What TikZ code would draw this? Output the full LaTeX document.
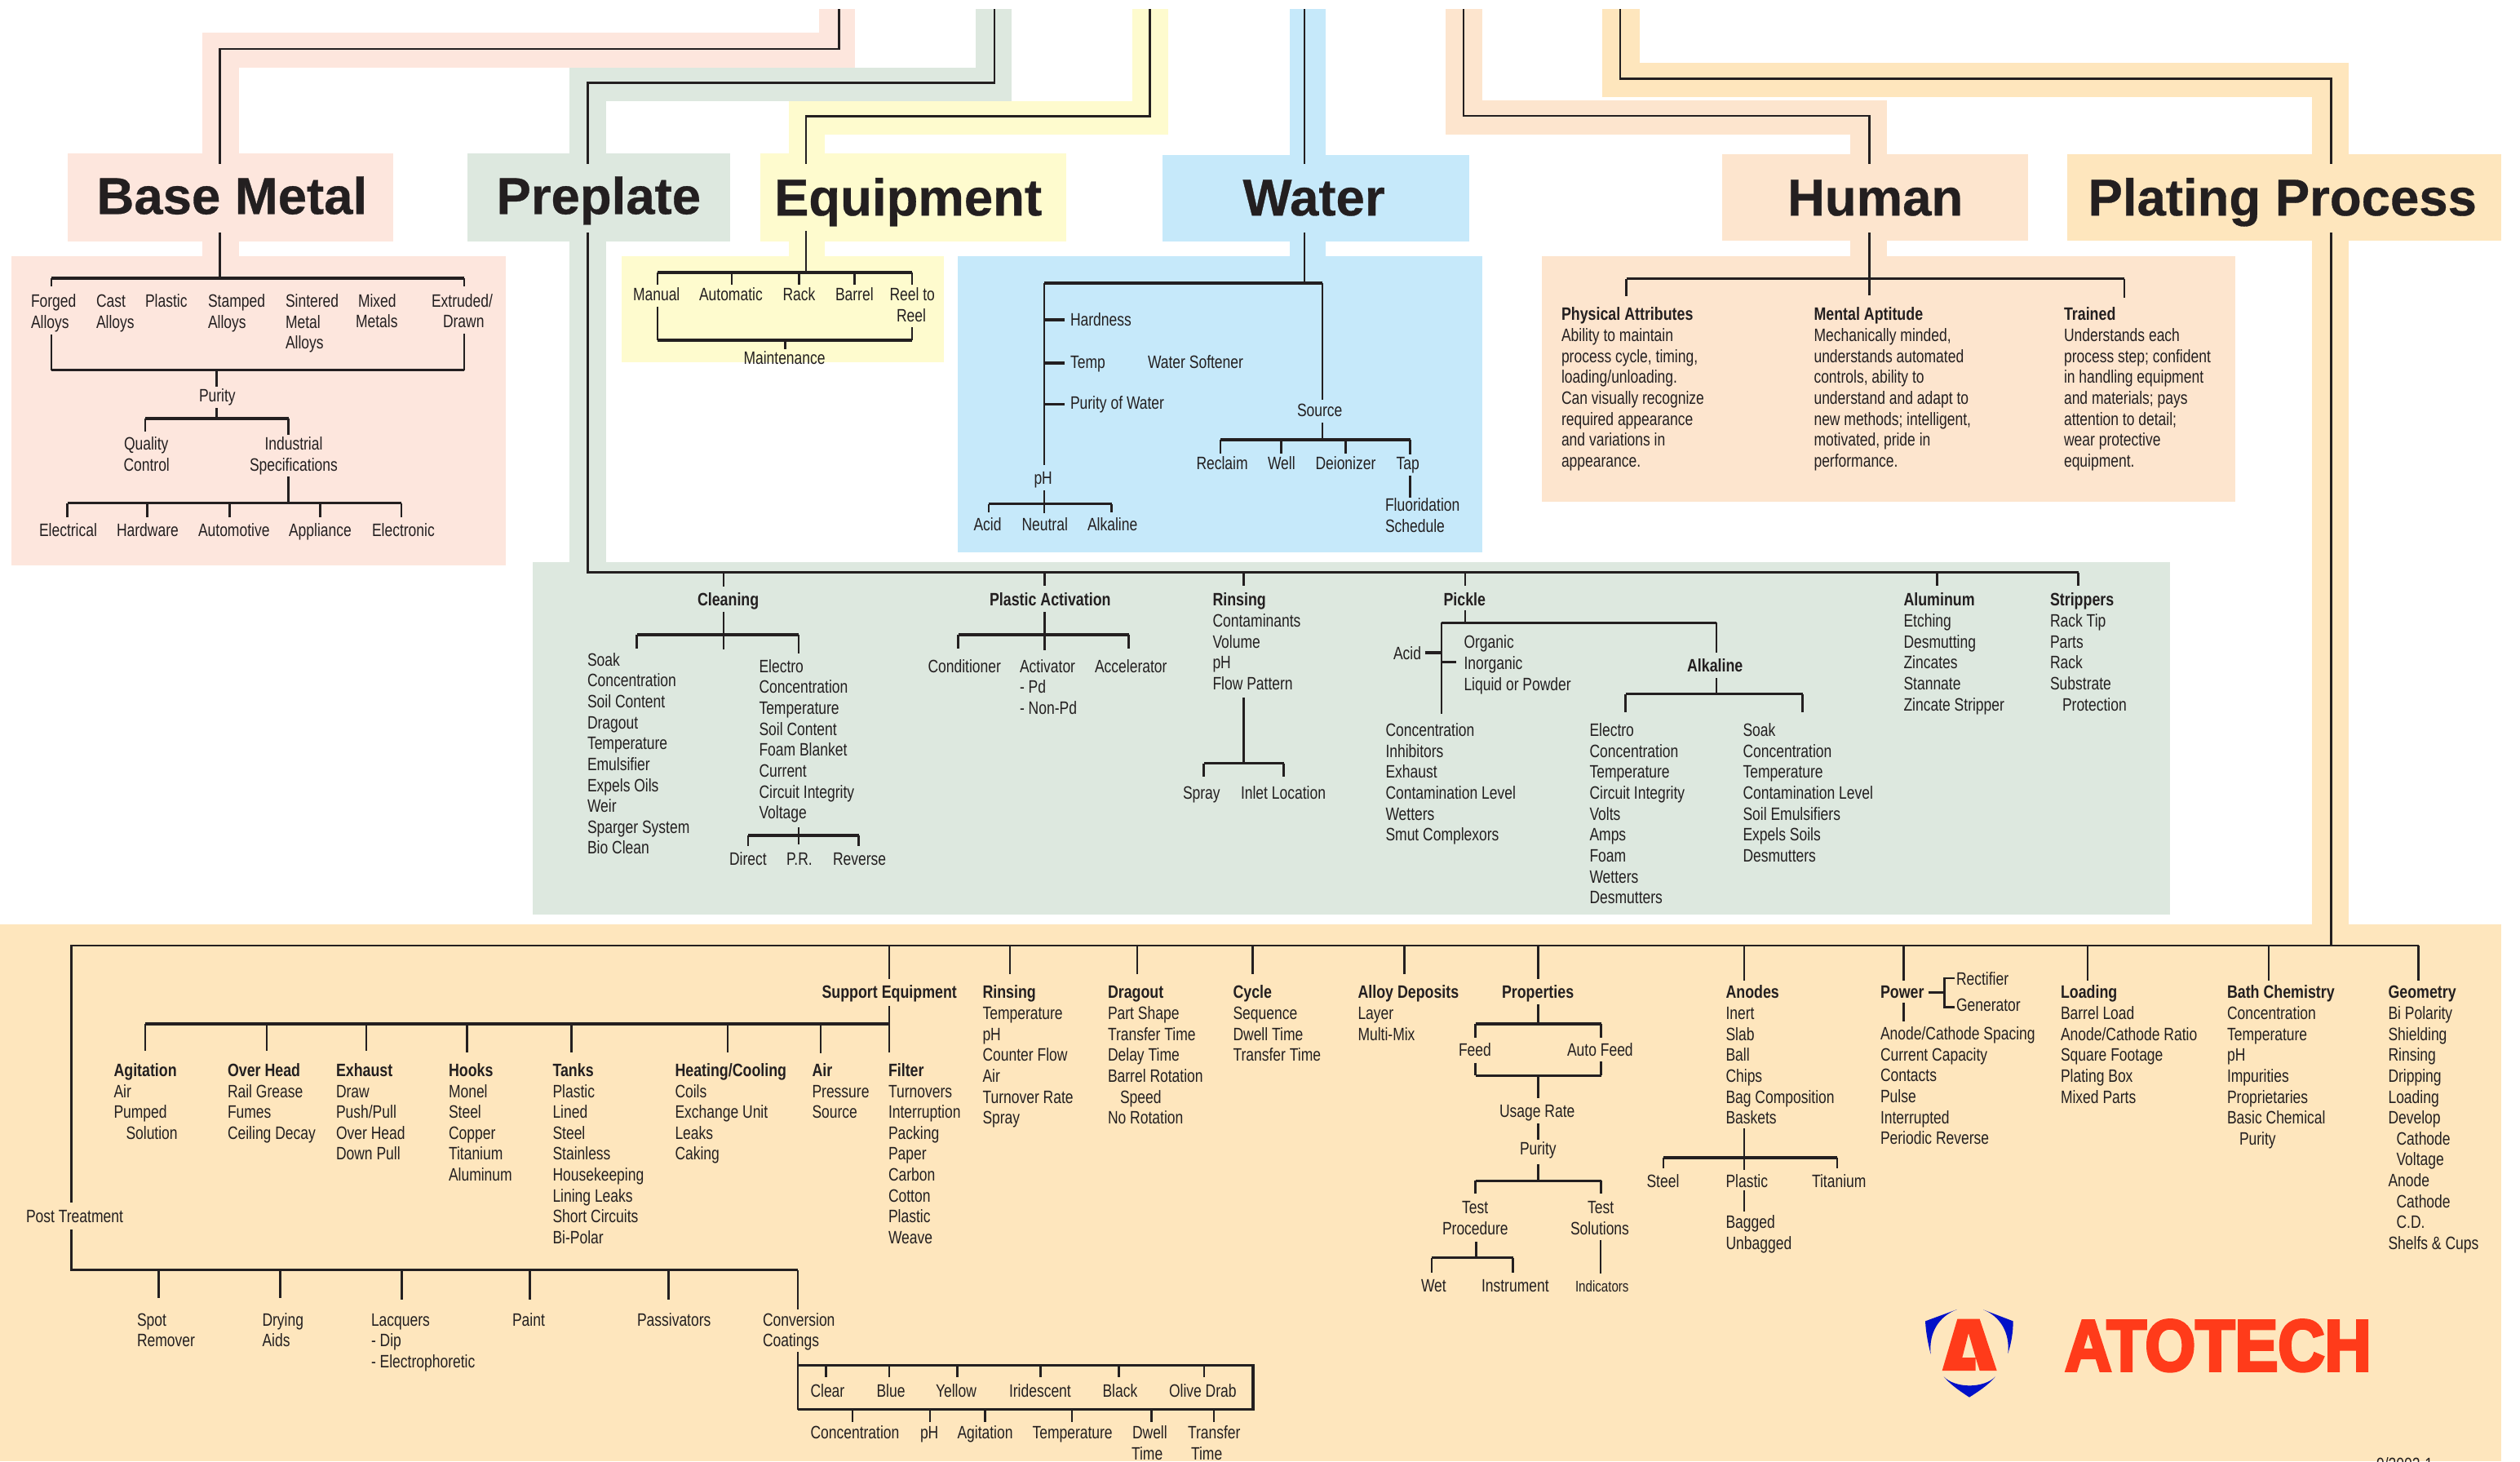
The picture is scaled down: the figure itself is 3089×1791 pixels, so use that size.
\documentclass[tikz,border=0pt]{standalone}
\usepackage{fontspec}
\setmainfont{Liberation Sans}[FakeStretch=0.795]
\newfontfamily\subheadfont{Liberation Sans}[FakeStretch=0.81]
\newfontfamily\headfont{Liberation Sans}[FakeBold=0.5]
\newfontfamily\logofont{Liberation Sans}[FakeStretch=0.89,FakeBold=4]
\definecolor{ink}{HTML}{231F20}
\definecolor{cbase}{HTML}{FDE6DD}
\definecolor{cpre}{HTML}{DDE8DF}
\definecolor{cequip}{HTML}{FEFBCE}
\definecolor{cwater}{HTML}{C6E9FA}
\definecolor{chuman}{HTML}{FDE5CE}
\definecolor{cplate}{HTML}{FEE6BD}
\definecolor{logored}{HTML}{FF3B1A}
\definecolor{logoblue}{HTML}{0010C8}
\tikzset{
  lbl/.style={anchor=base west,inner sep=0pt,outer sep=0pt,text=ink,yshift=-0.8pt,font=\fontsize{22}{25}\selectfont},
  sub/.style={lbl,font=\fontsize{22}{25}\selectfont\subheadfont\bfseries},
  hd/.style={anchor=base west,inner sep=0pt,outer sep=0pt,text=ink,yshift=-0.6pt,font=\fontsize{63.5}{70}\selectfont\headfont\bfseries},
  tk/.style={draw=ink,line width=2.3pt},
  br/.style={draw=ink,line width=3.2pt},
  trunk/.style={draw=ink,line width=2.6pt,line join=miter}
}
\newcommand\VT[4]{\coordinate (#1a) at (#2,#3);\coordinate (#1b) at (#2,#4);\draw[tk] (#1a) -- (#1b);}
\newcommand\HB[4]{\coordinate (#1a) at (#2,#4);\coordinate (#1b) at (#3,#4);\draw[br] (#1a) -- (#1b);}
\newcommand\TX[4]{\node[lbl] (#1) at (#2,#3) {#4};}
\newcommand\SB[4]{\node[sub] (#1) at (#2,#3) {#4};}
\newcommand\LST[4]{\foreach \t [count=\i] in {#4} {\node[lbl] (#1\i) at (#2,{#3+25.65*(\i-1)}) {\t};}}
\newcommand\BX[5]{\fill[#1] (#2,#3) rectangle (#4,#5);}
\newcommand\ind{\hspace*{15pt}}
\begin{document}
\begin{tikzpicture}[x=1pt,y=-1pt]
\useasboundingbox (0,0) rectangle (3089,1791);
\fill[white] (0,0) rectangle (3089,1791);
%--------- colour bands
\BX{cbase}{1004}{11}{1048}{83}
\BX{cbase}{248}{39.5}{1048}{83}
\BX{cbase}{248}{39.5}{293}{314}
\BX{cbase}{83}{188}{482}{296}
\BX{cbase}{14}{314}{620}{693}
\BX{cpre}{1196}{11}{1240}{124}
\BX{cpre}{698}{83}{1240}{124}
\BX{cpre}{698}{83}{742.5}{689}
\BX{cpre}{573}{188}{895}{296}
\BX{cpre}{653}{689}{2660}{1121}
\BX{cequip}{1387.5}{11}{1432}{164.5}
\BX{cequip}{966.5}{124}{1432}{164.5}
\BX{cequip}{966.5}{124}{1011}{314}
\BX{cequip}{931.5}{188}{1307}{296}
\BX{cequip}{762}{314}{1156.5}{444}
\BX{cwater}{1580.5}{11}{1625}{314}
\BX{cwater}{1424.5}{190}{1800.5}{296}
\BX{cwater}{1173.5}{313.5}{1816.5}{676.5}
\BX{chuman}{1772}{11}{1816.5}{165}
\BX{chuman}{1772}{123}{2312.5}{165}
\BX{chuman}{2268}{123}{2312.5}{314}
\BX{chuman}{2111}{188.5}{2485.5}{295}
\BX{chuman}{1889.5}{313.5}{2740}{614.5}
\BX{cplate}{1963.5}{11}{2009.5}{119}
\BX{cplate}{1963.5}{77}{2878.5}{119}
\BX{cplate}{2834}{77}{2878.5}{1133}
\BX{cplate}{2533.5}{188.5}{3065.5}{295}
\BX{cplate}{0}{1132.5}{3065.5}{1791}
%--------- headings
\node[hd] (hbase) at (118.5,261.7) {Base Metal};
\node[hd] (hpre) at (608.5,261.7) {Preplate};
\node[hd] (hequip) at (949,263.5) {Equipment};
\node[hd] (hwater) at (1523.5,263.5) {Water};
\node[hd] (hhuman) at (2191,263.5) {Human};
\node[hd] (hplate) at (2559.5,263.5) {Plating Process};
%--------- trunks
\coordinate (bm1) at (1028.5,11);\coordinate (bm2) at (1028.5,60);\coordinate (bm3) at (269.5,60);\coordinate (bm4) at (269.5,200.5);\coordinate (bm5) at (269.5,285);\coordinate (bm6) at (269.5,341);
\draw[trunk] (bm1) -- (bm2) -- (bm3) -- (bm4);\draw[trunk] (bm5) -- (bm6);
\coordinate (pp1) at (1219,11);\coordinate (pp2) at (1219,101.5);\coordinate (pp3) at (720.5,101.5);\coordinate (pp4) at (720.5,200.5);\coordinate (pp5) at (720.5,285);\coordinate (pp6) at (720.5,701.5);\coordinate (pp7) at (2547.5,701.5);
\draw[trunk] (pp1) -- (pp2) -- (pp3) -- (pp4);\draw[trunk] (pp5) -- (pp6) -- (pp7);
\coordinate (eq1) at (1409.5,11);\coordinate (eq2) at (1409.5,142.5);\coordinate (eq3) at (988,142.5);\coordinate (eq4) at (988,200.5);\coordinate (eq5) at (988,283);\coordinate (eq6) at (988,334);
\draw[trunk] (eq1) -- (eq2) -- (eq3) -- (eq4);\draw[trunk] (eq5) -- (eq6);
\coordinate (wa1) at (1599,11);\coordinate (wa2) at (1599,201);\coordinate (wa3) at (1599,285);\coordinate (wa4) at (1599,347);
\draw[trunk] (wa1) -- (wa2);\draw[trunk] (wa3) -- (wa4);
\coordinate (hu1) at (1794,11);\coordinate (hu2) at (1794,142);\coordinate (hu3) at (2291.5,142);\coordinate (hu4) at (2291.5,201);\coordinate (hu5) at (2291.5,285);\coordinate (hu6) at (2291.5,361.5);
\draw[trunk] (hu1) -- (hu2) -- (hu3) -- (hu4);\draw[trunk] (hu5) -- (hu6);
\coordinate (pl1) at (1986,11);\coordinate (pl2) at (1986,96.5);\coordinate (pl3) at (2857.5,96.5);\coordinate (pl4) at (2857.5,201);\coordinate (pl5) at (2857.5,285);\coordinate (pl6) at (2857.5,1159);
\draw[trunk] (pl1) -- (pl2) -- (pl3) -- (pl4);\draw[trunk] (pl5) -- (pl6);
%--------- Base Metal
\HB{a1}{63}{569}{341}\VT{a2}{63}{341}{351}\VT{a3}{569}{341}{351}
\LST{bfa}{38}{375.6}{Forged,Alloys}
\LST{bca}{118}{375.6}{Cast,Alloys}
\TX{bpl}{178}{375.6}{Plastic}
\LST{bsa}{255}{375.6}{Stamped,Alloys}
\LST{bsi}{350}{375.6}{Sintered,Metal,Alloys}
\TX{bmi}{439}{375.6}{Mixed}\TX{bme}{436}{401}{Metals}
\TX{bex}{529}{375.6}{Extruded/}\TX{bdr}{543}{401}{Drawn}
\VT{a4}{63}{410}{453.6}\VT{a5}{569}{408.6}{453.6}\HB{a6}{63}{569}{453.6}\VT{a7}{265.6}{453.6}{474}
\TX{bpu}{244}{492}{Purity}
\VT{a8}{265.6}{500}{513}\HB{a9}{178}{353.6}{513}\VT{a10}{178}{513}{529}\VT{a11}{353.6}{513}{532.6}
\TX{bq}{152}{551}{Quality}\TX{bc}{151.5}{577}{Control}
\TX{bin}{324.5}{551}{Industrial}\TX{bsp}{306}{577}{Specifications}
\VT{a12}{353.6}{584}{616.6}\HB{a13}{82.6}{492}{616.6}
\VT{a14}{82.6}{616.6}{633.6}\VT{a15}{180.6}{616.6}{633.6}\VT{a16}{281.6}{616.6}{633.6}\VT{a17}{392.6}{616.6}{633.6}\VT{a18}{492}{616.6}{633.6}
\TX{bel}{48}{656.6}{Electrical}\TX{bha}{143}{656.6}{Hardware}\TX{bau}{243}{656.6}{Automotive}\TX{bap}{354}{656.6}{Appliance}\TX{bele}{456}{656.6}{Electronic}
%--------- Equipment
\HB{e1}{806}{1118}{334}\VT{e2}{806}{334}{349}\VT{e3}{897}{334}{349}\VT{e4}{979.5}{334}{349}\VT{e5}{1047.5}{334}{349}\VT{e6}{1118}{334}{349}
\TX{ema}{776}{368}{Manual}\TX{eau}{857}{368}{Automatic}\TX{era}{959.5}{368}{Rack}\TX{eba}{1024}{368}{Barrel}\TX{ere}{1090.5}{368}{Reel to}\TX{erl}{1099}{393.5}{Reel}
\VT{e7}{806}{375.5}{417}\VT{e8}{1118}{401}{417}\HB{e9}{806}{1118}{417}\VT{e10}{962.5}{417}{428}
\TX{emt}{911.5}{445.4}{Maintenance}
%--------- Water
\HB{w1}{1280}{1621}{347}\VT{w2}{1280}{347}{570}\VT{w3}{1621}{347}{490}
\HB{w4}{1280}{1304.5}{392}\HB{w5}{1280}{1304.5}{445}\HB{w6}{1280}{1304.5}{495.5}
\TX{wha}{1312}{398.5}{Hardness}\TX{wte}{1312}{451}{Temp}\TX{wso}{1407}{451}{Water Softener}\TX{wpu}{1312}{501}{Purity of Water}
\TX{wsr}{1590}{510}{Source}
\VT{w7}{1621}{518}{539}\HB{w8}{1496}{1728.5}{539}
\VT{w9}{1496}{539}{556}\VT{w10}{1570.5}{539}{556}\VT{w11}{1649.5}{539}{556}\VT{w12}{1728.5}{539}{557}
\TX{wre}{1466.5}{575}{Reclaim}\TX{wwe}{1554}{575}{Well}\TX{wde}{1612.5}{575}{Deionizer}\TX{wta}{1711.5}{575}{Tap}
\VT{w13}{1728.5}{582.5}{609.5}
\LST{wfl}{1698}{626}{Fluoridation,Schedule}
\TX{wph}{1267.5}{593}{pH}
\VT{w14}{1280}{601}{628.5}\HB{w15}{1212}{1362.5}{617.5}\VT{w16}{1212}{617.5}{628}\VT{w17}{1362.5}{617.5}{628}
\TX{wac}{1193.5}{650}{Acid}\TX{wne}{1252.5}{650}{Neutral}\TX{wal}{1333}{650}{Alkaline}
%--------- Human
\HB{h1}{1993.5}{2604}{341.5}\VT{h2}{1993.5}{341.5}{362.5}\VT{h3}{2604}{341.5}{364.5}
\SB{hpa}{1914}{392}{Physical Attributes}
\LST{hpl}{1914}{417.7}{Ability to maintain,{process cycle, timing,},loading/unloading.,Can visually recognize,required appearance,and variations in,appearance.}
\SB{hma}{2223.5}{392}{Mental Aptitude}
\LST{hml}{2223.5}{417.7}{{Mechanically minded,},understands automated,{controls, ability to},understand and adapt to,{new methods; intelligent,},{motivated, pride in},performance.}
\SB{htr}{2530}{392}{Trained}
\LST{htl}{2530}{417.7}{Understands each,process step; confident,in handling equipment,and materials; pays,attention to detail;,wear protective,equipment.}
%--------- Preplate
\VT{p1}{887}{701.5}{719}\VT{p2}{1280.5}{701.5}{718}\VT{p3}{1524.5}{701.5}{718}\VT{p4}{1796}{701.5}{718}\VT{p5}{2374.5}{701.5}{718}\VT{p6}{2547.5}{701.5}{718}
\SB{pcl}{855}{741.7}{Cleaning}
\VT{p7}{887}{749.5}{796}\HB{p8}{780.5}{979}{778}\VT{p9}{780.5}{778}{795}\VT{p10}{979}{778}{800.5}
\LST{psk}{720}{815.3}{Soak,Concentration,Soil Content,Dragout,Temperature,Emulsifier,Expels Oils,Weir,Sparger System,Bio Clean}
\LST{pel}{930.5}{823.3}{Electro,Concentration,Temperature,Soil Content,Foam Blanket,Current,Circuit Integrity,Voltage}
\VT{p11}{979}{1014}{1035}\HB{p12}{917}{1052.5}{1024}\VT{p13}{917}{1024}{1036.5}\VT{p14}{1052.5}{1024}{1036.5}
\TX{pdi}{894}{1060}{Direct}\TX{ppr}{964}{1060}{P.R.}\TX{pre}{1021}{1060}{Reverse}
\SB{ppa}{1213}{741.7}{Plastic Activation}
\VT{p15}{1280.5}{750}{796.5}\HB{p16}{1174.5}{1383.5}{778}\VT{p17}{1174.5}{778}{795}\VT{p18}{1383.5}{778}{795}
\TX{pco}{1137.5}{823.3}{Conditioner}\LST{pac}{1250}{823.3}{Activator,- Pd,- Non-Pd}\TX{pax}{1342}{823.3}{Accelerator}
\SB{pri}{1486.5}{741.7}{Rinsing}
\LST{pril}{1486.5}{767.7}{Contaminants,Volume,pH,Flow Pattern}
\VT{p19}{1524.5}{855}{935.5}\HB{p20}{1475.5}{1573.5}{935.5}\VT{p21}{1475.5}{935.5}{951.5}\VT{p22}{1573.5}{935.5}{951.5}
\TX{psp}{1450}{979}{Spray}\TX{pin}{1521}{979}{Inlet Location}
\SB{ppi}{1769.5}{741.7}{Pickle}
\VT{p23}{1796}{748}{763.3}\HB{p24}{1767}{2104}{763.3}\VT{p25}{1767}{763.3}{874.5}\VT{p26}{2104}{763.3}{799.5}
\TX{pai}{1708}{807.7}{Acid}
\HB{p27}{1746.5}{1767}{800}\HB{p28}{1767}{1785}{811.5}
\LST{por}{1794.5}{794}{Organic,Inorganic,Liquid or Powder}
\SB{pak}{2068}{822.7}{Alkaline}
\VT{p29}{2104}{831}{850.5}\HB{p30}{1992.5}{2209.5}{850.5}\VT{p31}{1992.5}{850.5}{872.5}\VT{p32}{2209.5}{850.5}{872.5}
\LST{pcn}{1698.5}{901.7}{Concentration,Inhibitors,Exhaust,Contamination Level,Wetters,Smut Complexors}
\LST{pe2}{1948.5}{901.7}{Electro,Concentration,Temperature,Circuit Integrity,Volts,Amps,Foam,Wetters,Desmutters}
\LST{ps2}{2136.5}{901.7}{Soak,Concentration,Temperature,Contamination Level,Soil Emulsifiers,Expels Soils,Desmutters}
\SB{pal}{2333.5}{741.7}{Aluminum}
\LST{pall}{2333.5}{767.7}{Etching,Desmutting,Zincates,Stannate,Zincate Stripper}
\SB{pst}{2513}{741.7}{Strippers}
\LST{pstl}{2513}{767.7}{Rack Tip,Parts,Rack,Substrate,\ind Protection}
%--------- Plating Process main
\coordinate (m1) at (87.7,1474);\coordinate (m2) at (87.7,1159);\coordinate (m3) at (2964.5,1159);
\draw[trunk] (m1) -- (m2) -- (m3);
\TX{mpt}{32}{1497.5}{Post Treatment}
\coordinate (m4) at (87.7,1507);\coordinate (m5) at (87.7,1556.8);\coordinate (m6) at (978.2,1556.8);
\draw[trunk] (m4) -- (m5) -- (m6);
\draw[br] (m5) -- (m6);
\VT{t1}{194.5}{1556.8}{1590.5}\VT{t2}{343.5}{1556.8}{1590.5}\VT{t3}{492.5}{1556.8}{1592.5}\VT{t4}{649.5}{1556.8}{1592.5}\VT{t5}{819.5}{1556.8}{1592.5}\VT{t6}{978.2}{1556.8}{1605}
\LST{msp}{168}{1624.2}{Spot,Remover}
\LST{mdr}{321.5}{1624.2}{Drying,Aids}
\LST{mla}{455}{1624.2}{Lacquers,- Dip,- Electrophoretic}
\TX{mpa}{628}{1624.2}{Paint}
\TX{mps}{781}{1624.2}{Passivators}
\LST{mcc}{935}{1624.2}{Conversion,Coatings}
\VT{t7}{978.2}{1657}{1673.5}
\coordinate (cb1) at (978.2,1673.7);\coordinate (cb2) at (1536,1673.7);\coordinate (cb3) at (1536,1727.7);\coordinate (cb4) at (978.2,1727.7);
\draw[br] (cb1) -- (cb2) -- (cb3) -- (cb4);\draw[tk] (cb1) -- (cb4);
\VT{t8}{1012.5}{1673.7}{1688}\VT{t9}{1090}{1673.7}{1688}\VT{t10}{1173.5}{1673.7}{1688}\VT{t11}{1275.5}{1673.7}{1688}\VT{t12}{1371.5}{1673.7}{1688}\VT{t13}{1476}{1673.7}{1688}
\TX{ccl}{993.5}{1712}{Clear}\TX{cbl}{1074.5}{1712}{Blue}\TX{cye}{1147}{1712}{Yellow}\TX{cir}{1237}{1712}{Iridescent}\TX{cbk}{1351.5}{1712}{Black}\TX{col}{1433}{1712}{Olive Drab}
\VT{t14}{1045}{1727.7}{1742.8}\VT{t15}{1139.8}{1727.7}{1742.8}\VT{t16}{1207.5}{1727.7}{1742.8}\VT{t17}{1314}{1727.7}{1742.8}\VT{t18}{1411.5}{1727.7}{1742.8}\VT{t19}{1488}{1727.7}{1742.8}
\TX{dco}{993.5}{1763}{Concentration}\TX{dph}{1128}{1763}{pH}\TX{dag}{1173.5}{1763}{Agitation}\TX{dte}{1265.5}{1763}{Temperature}
\TX{ddw}{1388}{1763}{Dwell}\TX{dti}{1387}{1789}{Time}\TX{dtr}{1456}{1763}{Transfer}\TX{dtt}{1460}{1789}{Time}
%--------- Support Equipment
\VT{s1}{1090}{1159}{1200}
\SB{sse}{1007.5}{1222.8}{Support Equipment}
\VT{s2}{1090}{1233}{1289.5}\HB{s3}{178}{1090}{1255}
\VT{s4}{178}{1255}{1288}\VT{s5}{327}{1255}{1288}\VT{s6}{449}{1255}{1288}\VT{s7}{572.5}{1255}{1289.5}\VT{s8}{700.5}{1255}{1289.5}\VT{s9}{892}{1255}{1289.5}\VT{s10}{1006}{1255}{1291}
\SB{sag}{139.5}{1318.4}{Agitation}\LST{sagl}{139.5}{1344.2}{Air,Pumped,\ind Solution}
\SB{sov}{279}{1318.4}{Over Head}\LST{sovl}{279}{1344.2}{Rail Grease,Fumes,Ceiling Decay}
\SB{sex}{412}{1318.4}{Exhaust}\LST{sexl}{412}{1344.2}{Draw,Push/Pull,Over Head,Down Pull}
\SB{sho}{550}{1318.4}{Hooks}\LST{shol}{550}{1344.2}{Monel,Steel,Copper,Titanium,Aluminum}
\SB{sta}{677.5}{1318.4}{Tanks}\LST{stal}{677.5}{1344.2}{Plastic,Lined,Steel,Stainless,Housekeeping,Lining Leaks,Short Circuits,Bi-Polar}
\SB{she}{827.5}{1318.4}{Heating/Cooling}\LST{shel}{827.5}{1344.2}{Coils,Exchange Unit,Leaks,Caking}
\SB{sai}{995.5}{1318.4}{Air}\LST{sail}{995.5}{1344.2}{Pressure,Source}
\SB{sfi}{1089}{1318.4}{Filter}\LST{sfil}{1089}{1344.2}{Turnovers,Interruption,Packing,Paper,Carbon,Cotton,Plastic,Weave}
%--------- top row columns
\VT{u1}{1238}{1159}{1193.5}\VT{u2}{1394}{1159}{1193.5}\VT{u3}{1535.5}{1159}{1193.5}\VT{u4}{1721.5}{1159}{1193.5}\VT{u5}{1885.5}{1159}{1200}
\SB{uri}{1204.5}{1222.8}{Rinsing}\LST{uril}{1204.5}{1248.6}{Temperature,pH,Counter Flow,Air,Turnover Rate,Spray}
\SB{udr}{1358}{1222.8}{Dragout}\LST{udrl}{1358}{1248.6}{Part Shape,Transfer Time,Delay Time,Barrel Rotation,\ind Speed,No Rotation}
\SB{ucy}{1511.5}{1222.8}{Cycle}\LST{ucyl}{1511.5}{1248.6}{Sequence,Dwell Time,Transfer Time}
\SB{uad}{1664.5}{1222.8}{Alloy Deposits}\LST{uadl}{1664.5}{1248.6}{Layer,Multi-Mix}
\SB{upr}{1841}{1222.8}{Properties}
\VT{u6}{1885.5}{1231}{1255}\HB{u7}{1808.5}{1962.5}{1255}\VT{u8}{1808.5}{1255}{1271.5}\VT{u9}{1962.5}{1255}{1271.5}
\TX{ufe}{1788}{1294}{Feed}\TX{uau}{1921}{1294}{Auto Feed}
\VT{u10}{1808.5}{1302.5}{1318.4}\VT{u11}{1962.5}{1301}{1318.4}\HB{u12}{1808.5}{1962.5}{1318.4}\VT{u13}{1885.5}{1318.4}{1345.5}
\TX{uus}{1838}{1368.7}{Usage Rate}
\VT{u14}{1885.5}{1377}{1396.5}
\TX{upu}{1863}{1415}{Purity}
\VT{u15}{1885.5}{1426.8}{1447.2}\HB{u16}{1808.5}{1962.5}{1447.2}\VT{u17}{1808.5}{1447.2}{1462.8}\VT{u18}{1962.5}{1447.2}{1462.8}
\TX{ut1}{1792}{1486.5}{Test}\TX{upc}{1768}{1512.6}{Procedure}
\TX{ut2}{1946}{1486.5}{Test}\TX{uso}{1925}{1512.6}{Solutions}
\VT{u19}{1809.5}{1522}{1541.7}\HB{u20}{1755}{1854.5}{1541.7}\VT{u21}{1755}{1541.7}{1560}\VT{u22}{1854.5}{1541.7}{1560}
\VT{u23}{1962}{1520}{1561}
\TX{uwe}{1742}{1582.5}{Wet}\TX{uin}{1816}{1582.5}{Instrument}
\node[lbl,font=\fontsize{19}{22}\selectfont] (uid) at (1931,1582.5) {Indicators};
%--------- Anodes
\VT{v1}{2138}{1159}{1202}
\SB{van}{2115.5}{1222.8}{Anodes}\LST{vanl}{2115.5}{1248.6}{Inert,Slab,Ball,Chips,Bag Composition,Baskets}
\VT{v2}{2138}{1383}{1433.5}\HB{v3}{2039}{2252}{1419}\VT{v4}{2039}{1419}{1432}\VT{v5}{2252}{1419}{1432}
\TX{vst}{2018.5}{1454.6}{Steel}\TX{vpl}{2115.5}{1454.6}{Plastic}\TX{vti}{2221}{1454.6}{Titanium}
\VT{v6}{2138}{1458.7}{1485}
\LST{vba}{2115.5}{1505}{Bagged,Unbagged}
%--------- Power
\VT{w21}{2333.5}{1159}{1202}
\SB{wpw}{2305}{1222.8}{Power}
\VT{w22}{2333.5}{1229}{1252}
\HB{w23}{2363.5}{2383.5}{1216.5}
\coordinate (wb1) at (2396,1199);\coordinate (wb2) at (2383.5,1199);\coordinate (wb3) at (2383.5,1234.5);\coordinate (wb4) at (2396,1234.5);
\draw[trunk] (wb1) -- (wb2) -- (wb3) -- (wb4);
\TX{wrf}{2398}{1207}{Rectifier}\TX{wgn}{2398}{1239}{Generator}
\LST{wpl}{2305}{1273.6}{Anode/Cathode Spacing,Current Capacity,Contacts,Pulse,Interrupted,Periodic Reverse}
%--------- Loading, Bath, Geometry
\VT{x1}{2559}{1159}{1202}\VT{x2}{2781}{1159}{1202}\VT{x3}{2964.5}{1159}{1202}
\SB{xlo}{2526}{1222.8}{Loading}\LST{xlol}{2526}{1248.6}{Barrel Load,Anode/Cathode Ratio,Square Footage,Plating Box,Mixed Parts}
\SB{xba}{2730}{1222.8}{Bath Chemistry}\LST{xbal}{2730}{1248.6}{Concentration,Temperature,pH,Impurities,Proprietaries,Basic Chemical,\ind Purity}
\SB{xge}{2927.5}{1222.8}{Geometry}\LST{xgel}{2927.5}{1248.6}{Bi Polarity,Shielding,Rinsing,Dripping,Loading,Develop,\hspace*{10pt}Cathode,\hspace*{10pt}Voltage,Anode,\hspace*{10pt}Cathode,\hspace*{10pt}C.D.,Shelfs \& Cups}
%--------- logo
\begin{scope}[shift={(2340,1590)},x=0.3333pt,y=-0.3333pt]
\fill[logored] (178,80) -- (260,80) -- (323,270) -- (260,270) -- (245,222) -- (219,132) -- (196,222) -- (245,222) -- (245,270) -- (122,270) -- cycle;
\fill[logoblue] (177,45) -- (60,88) .. controls (62,130) and (70,170) .. (80,210) .. controls (72,130) and (110,70) .. (177,45) -- cycle;
\fill[logoblue] (273,46) -- (383,88) .. controls (383,130) and (376,170) .. (364,207) .. controls (372,130) and (335,70) .. (273,46) -- cycle;
\fill[logoblue] (128,292) .. controls (170,336) and (275,336) .. (318,292) .. controls (290,325) and (250,350) .. (222,368) .. controls (195,350) and (155,325) .. (128,292) -- cycle;
\end{scope}
\node[anchor=base west,inner sep=0pt,text=logored,font=\fontsize{89}{95}\selectfont\logofont\bfseries] (atotech) at (2531,1680) {ATOTECH};
\node[lbl] (mark) at (2913,1802) {9/2002-1};
\end{tikzpicture}
\end{document}
